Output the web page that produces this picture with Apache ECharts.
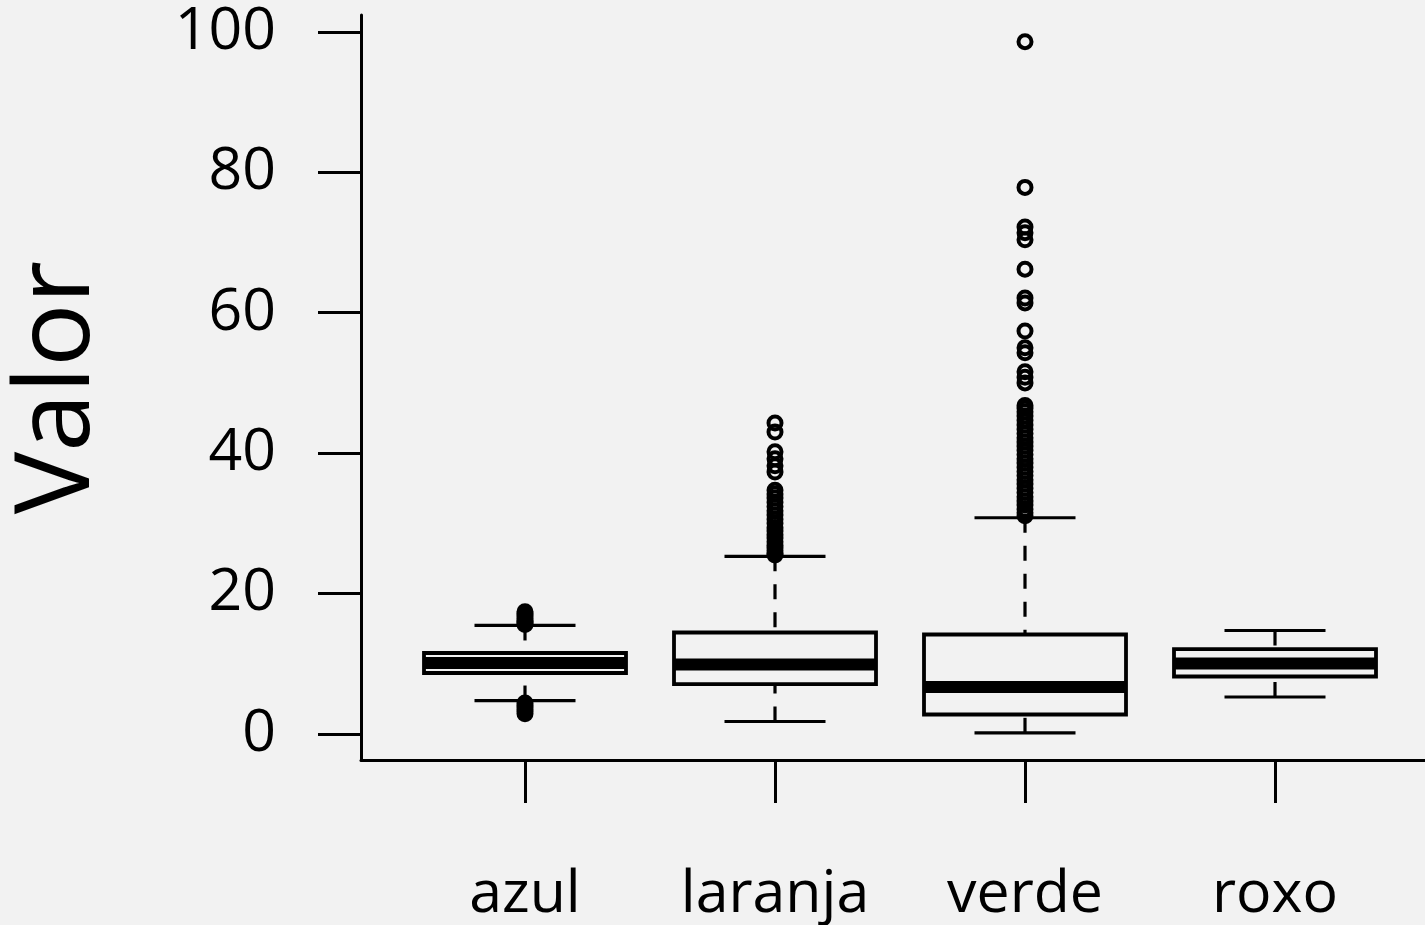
<!DOCTYPE html>
<html>
<head>
<meta charset="utf-8">
<script src="https://cdn.jsdelivr.net/npm/echarts@6/dist/echarts.min.js"></script>
<style>
html,body{margin:0;padding:0;background:#f2f2f2;}
#chart{width:1425px;height:925px;}
</style>
</head>
<body>
<div id="chart"></div>
<script>
var categories = ['azul', 'laranja', 'verde', 'roxo'];
var lowerWhisker = [4.77, 1.78, 0.17, 5.27];
var q1 = [8.69, 7.12, 2.78, 8.19];
var median = [10.11, 9.9, 6.7, 10.04];
var q3 = [11.54, 14.46, 14.17, 12.1];
var upperWhisker = [15.46, 25.3, 30.8, 14.74];
var outliersAzul = [17.4, 17.1, 16.8, 16.5, 16.2, 16.0, 15.8, 15.6, 4.4, 4.1, 3.8, 3.5, 3.2, 2.9];
var outliersLaranja = [44.3, 43.0, 40.2, 39.2, 38.2, 37.3, 34.7, 34.2, 33.6, 33.0, 32.4, 31.8, 31.2, 30.6, 30.0, 29.4, 28.9, 28.4, 27.9, 27.4, 26.9, 26.5, 26.1, 25.7, 25.5];
var outliersVerde = [98.6, 77.85, 72.2, 71.4, 70.4, 66.2, 62.1, 61.4, 57.4, 55.0, 54.3, 51.6, 50.8, 50.0,
  46.8, 46.4, 45.9, 45.3, 44.7, 44.0, 43.4, 42.8, 42.2, 41.6, 41.0, 40.4, 39.8, 39.2, 38.6, 38.0, 37.4, 36.8, 36.2, 35.6, 35.0, 34.4, 33.8, 33.2, 32.6, 32.0, 31.5, 31.1];
var outliersRoxo = [];
var yTicks = [0, 20, 40, 60, 80, 100];
var yName = 'Valor';

var allOutliers = [outliersAzul, outliersLaranja, outliersVerde, outliersRoxo];
var boxData = categories.map(function (c, i) {
  return [i, lowerWhisker[i], q1[i], median[i], q3[i], upperWhisker[i]];
});
var outlierData = [];
allOutliers.forEach(function (arr, i) {
  arr.forEach(function (v) { outlierData.push([i, v]); });
});

var FONT = '"Open Sans", "Noto Sans", sans-serif';
var chart = echarts.init(document.getElementById('chart'), null, {renderer: 'canvas'});
chart.setOption({
  backgroundColor: '#f2f2f2',
  animation: false,
  grid: [
    {left: 400, width: 1000, top: 15, bottom: 165, containLabel: false, outerBoundsMode: 'none'},
    {left: 361, right: 0, top: 15, bottom: 165, containLabel: false, outerBoundsMode: 'none'}
  ],
  xAxis: [
    {
      type: 'category', gridIndex: 0, data: categories, offset: 0,
      axisLine: {show: false, onZero: false},
      axisTick: {show: true, alignWithLabel: true, inside: false, interval: 0, length: 43, lineStyle: {color: '#000', width: 3}},
      axisLabel: {color: '#000', fontFamily: FONT, fontSize: 59, margin: 106, interval: 0},
      splitLine: {show: false}
    },
    {
      type: 'value', gridIndex: 1, min: 0, max: 1,
      axisLine: {show: true, onZero: false, lineStyle: {color: '#000', width: 3}},
      axisTick: {show: false}, axisLabel: {show: false}, splitLine: {show: false}
    }
  ],
  yAxis: [
    {
      type: 'value', gridIndex: 0, min: -3.7, max: 102.4, offset: 39,
      name: yName, nameLocation: 'middle', nameRotate: 90, nameGap: 249,
      nameTextStyle: {color: '#000', fontFamily: FONT, fontSize: 105},
      axisLine: {show: true, onZero: false, lineStyle: {color: '#000', width: 3}},
      axisTick: {show: true, length: 43, customValues: yTicks, lineStyle: {color: '#000', width: 3}},
      axisLabel: {color: '#000', fontFamily: FONT, fontSize: 59, margin: 85, customValues: yTicks},
      splitLine: {show: false}
    },
    {type: 'value', gridIndex: 1, show: false, min: 0, max: 1}
  ],
  series: [
    {
      type: 'custom', xAxisIndex: 0, yAxisIndex: 0,
      data: boxData,
      encode: {x: 0, y: [1, 2, 3, 4, 5]},
      renderItem: function (params, api) {
        var idx = api.value(0);
        var lo = api.coord([idx, api.value(1)]);
        var p1 = api.coord([idx, api.value(2)]);
        var md = api.coord([idx, api.value(3)]);
        var p3 = api.coord([idx, api.value(4)]);
        var hi = api.coord([idx, api.value(5)]);
        var band = api.size([1, 0])[0];
        var hw = band * 0.404;
        var sw = hw * 0.5;
        var x = lo[0];
        var dash = {stroke: '#000', lineWidth: 3.2, lineDash: [15, 13], fill: null};
        var solid = {stroke: '#000', lineWidth: 3.2, fill: null};
        return {
          type: 'group',
          children: [
            {type: 'line', shape: {x1: x, y1: hi[1], x2: x, y2: p3[1]}, style: dash},
            {type: 'line', shape: {x1: x, y1: lo[1], x2: x, y2: p1[1]}, style: dash},
            {type: 'line', shape: {x1: x - sw, y1: hi[1], x2: x + sw, y2: hi[1]}, style: solid},
            {type: 'line', shape: {x1: x - sw, y1: lo[1], x2: x + sw, y2: lo[1]}, style: solid},
            {type: 'rect', shape: {x: x - hw, y: p3[1], width: 2 * hw, height: p1[1] - p3[1]},
              style: {fill: null, stroke: '#000', lineWidth: 3.8}},
            {type: 'line', shape: {x1: x - hw, y1: md[1], x2: x + hw, y2: md[1]},
              style: {stroke: '#000', lineWidth: 12}}
          ]
        };
      }
    },
    {
      type: 'scatter', xAxisIndex: 0, yAxisIndex: 0,
      data: outlierData,
      symbol: 'circle', symbolSize: 13,
      itemStyle: {color: 'rgba(0,0,0,0)', borderColor: '#000', borderWidth: 4, opacity: 1},
      emphasis: {disabled: true}
    }
  ]
});
</script>
</body>
</html>
